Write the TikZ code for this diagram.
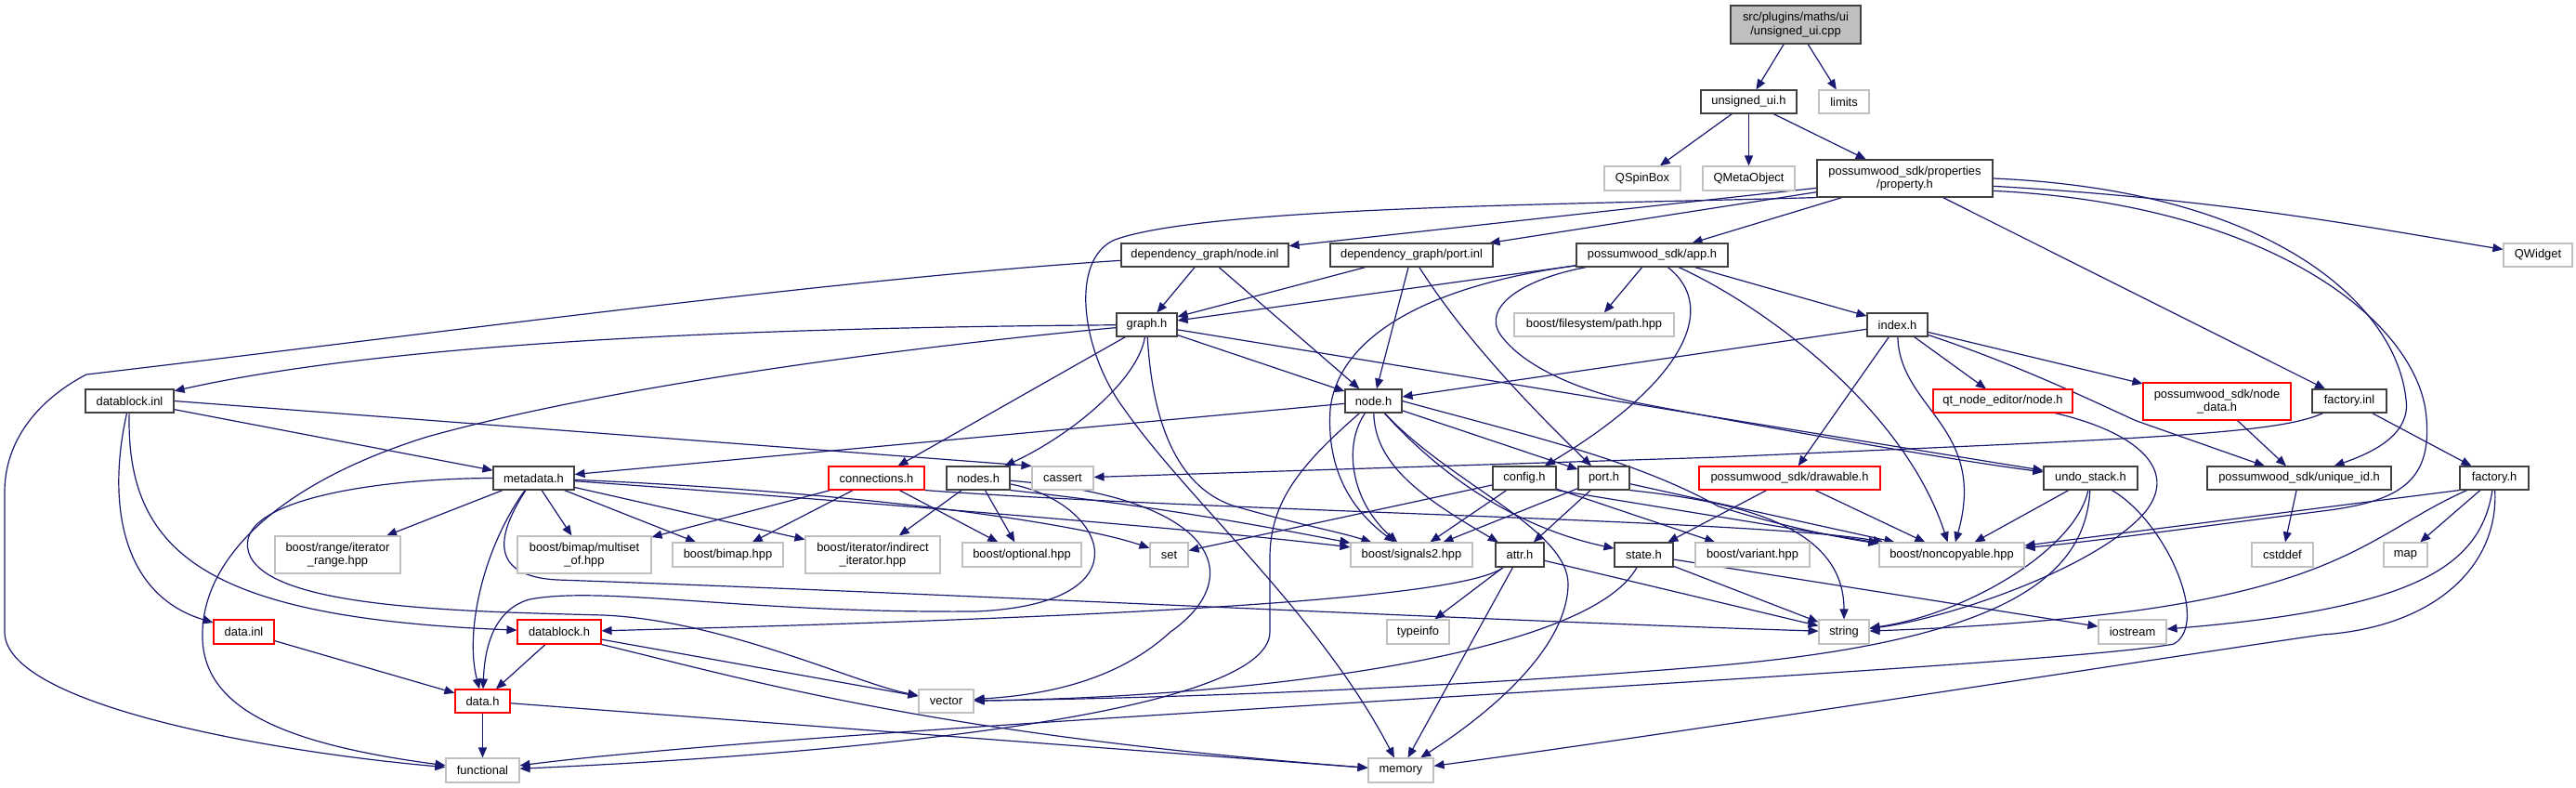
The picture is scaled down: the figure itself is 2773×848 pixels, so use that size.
\documentclass[tikz,border=0pt]{standalone}
\usepackage{fontspec}
\setmainfont{Liberation Sans}
\usetikzlibrary{arrows.meta}
\definecolor{edgec}{HTML}{191970}
\definecolor{grayb}{HTML}{BFBFBF}
\definecolor{blkb}{HTML}{404040}
\pgfdeclarelayer{bg}
\pgfsetlayers{bg,main}
\tikzset{
  nbase/.style={rectangle, fill=white, inner sep=0pt, minimum height=25pt, line width=1.1pt,
    font=\fontsize{12.9}{14.5}\selectfont, align=center, text=black},
  bk/.style={nbase, draw=blkb},
  gy/.style={nbase, draw=grayb},
  rd/.style={nbase, draw=red},
  edg/.style={draw=edgec, line width=1.2pt, -{Triangle[length=11pt,width=9pt]}},
}
\begin{document}
\begin{tikzpicture}[x=1pt,y=-1pt]
\useasboundingbox (0,0) rectangle (2773,848);
% nodes
\node[bk, fill=grayb, minimum width=140pt, minimum height=41pt] (root) at (1933,26.5) {src/plugins/maths/ui\\/unsigned\_ui.cpp};
\node[bk, minimum width=103pt] (uih) at (1882.5,109.5) {unsigned\_ui.h};
\node[gy, minimum width=54pt] (limits) at (1985,109.5) {limits};
\node[gy, minimum width=82pt, minimum height=26pt] (qspin) at (1768,192) {QSpinBox};
\node[gy, minimum width=99pt, minimum height=26pt] (qmeta) at (1882.5,192) {QMetaObject};
\node[bk, minimum width=189pt, minimum height=40pt] (prop) at (2050.5,192) {possumwood\_sdk/properties\\/property.h};
\node[gy, minimum width=74pt] (qwidget) at (2732,274.5) {QWidget};
\node[bk, minimum width=180pt] (nodeinl) at (1297,274.5) {dependency\_graph/node.inl};
\node[bk, minimum width=175pt] (portinl) at (1519.5,274.5) {dependency\_graph/port.inl};
\node[bk, minimum width=163pt] (apph) at (1778.5,274.5) {possumwood\_sdk/app.h};
\node[bk, minimum width=65pt] (graphh) at (1234.5,349.5) {graph.h};
\node[gy, minimum width=172pt] (fspath) at (1716,349.5) {boost/filesystem/path.hpp};
\node[bk, minimum width=65pt] (indexh) at (2042.5,349.5) {index.h};
\node[rd, minimum width=150pt] (qtnode) at (2156,431.5) {qt\_node\_editor/node.h};
\node[rd, minimum width=159pt, minimum height=40pt] (nodedata) at (2386.5,432) {possumwood\_sdk/node\\\_data.h};
\node[bk, minimum width=80pt] (factinl) at (2529,431.5) {factory.inl};
\node[bk, minimum width=95pt] (dbinl) at (139.5,431.5) {datablock.inl};
\node[bk, minimum width=61pt] (nodeh) at (1478.5,431.5) {node.h};
\node[gy, minimum width=66pt] (cassert) at (1144,514.5) {cassert};
\node[bk, minimum width=87pt] (metah) at (574.5,514.5) {metadata.h};
\node[rd, minimum width=103pt] (connh) at (943.5,514.5) {connections.h};
\node[bk, minimum width=68pt] (nodesh) at (1053,514.5) {nodes.h};
\node[bk, minimum width=68pt] (configh) at (1641,514.5) {config.h};
\node[bk, minimum width=55pt] (porth) at (1726.5,514.5) {port.h};
\node[rd, minimum width=195pt] (drawh) at (1926.5,514.5) {possumwood\_sdk/drawable.h};
\node[bk, minimum width=101pt] (undoh) at (2250.5,514.5) {undo\_stack.h};
\node[bk, minimum width=198pt] (uidh) at (2475,514.5) {possumwood\_sdk/unique\_id.h};
\node[bk, minimum width=74pt] (facth) at (2685,514.5) {factory.h};
\node[gy, minimum width=135pt, minimum height=40pt] (range) at (363.5,597) {boost/range/iterator\\\_range.hpp};
\node[gy, minimum width=144pt, minimum height=40pt] (multiset) at (629,597) {boost/bimap/multiset\\\_of.hpp};
\node[gy, minimum width=119pt, minimum height=26pt] (bimap) at (783.5,597) {boost/bimap.hpp};
\node[gy, minimum width=145pt, minimum height=40pt] (indirect) at (939.5,597) {boost/iterator/indirect\\\_iterator.hpp};
\node[gy, minimum width=128pt, minimum height=26pt] (optional) at (1100,597) {boost/optional.hpp};
\node[gy, minimum width=41pt, minimum height=26pt] (setn) at (1258.5,597) {set};
\node[gy, minimum width=131pt, minimum height=26pt] (signals) at (1519.5,597) {boost/signals2.hpp};
\node[bk, minimum width=52pt, minimum height=26pt] (attrh) at (1636,597) {attr.h};
\node[bk, minimum width=63pt, minimum height=26pt] (stateh) at (1769.5,597) {state.h};
\node[gy, minimum width=123pt, minimum height=26pt] (variant) at (1886.5,597) {boost/variant.hpp};
\node[gy, minimum width=156pt, minimum height=26pt] (noncopy) at (2101,597) {boost/noncopyable.hpp};
\node[gy, minimum width=66pt, minimum height=26pt] (cstddef) at (2457,597) {cstddef};
\node[gy, minimum width=47pt, minimum height=26pt] (mapn) at (2589.5,597) {map};
\node[rd, minimum width=65pt, minimum height=26pt] (datainl) at (262.5,680) {data.inl};
\node[rd, minimum width=90pt, minimum height=26pt] (dbh) at (602,680) {datablock.h};
\node[gy, minimum width=67pt, minimum height=26pt] (typeinfo) at (1526.5,680) {typeinfo};
\node[gy, minimum width=54pt, minimum height=26pt] (stringn) at (1985,680) {string};
\node[gy, minimum width=73pt, minimum height=26pt] (iostream) at (2295.5,680) {iostream};
\node[rd, minimum width=59pt] (datah) at (519.5,754.5) {data.h};
\node[gy, minimum width=59pt] (vector) at (1018.5,754.5) {vector};
\node[gy, minimum width=79pt, minimum height=26pt] (functional) at (519.5,829) {functional};
\node[gy, minimum width=70pt, minimum height=26pt] (memory) at (1508,829) {memory};
% edges
\begin{pgfonlayer}{bg}
\draw[edg] (root) -- (uih);
\draw[edg] (root) -- (limits);
\draw[edg] (uih) -- (qspin);
\draw[edg] (uih) -- (qmeta);
\draw[edg] (uih) -- (prop);
\draw[edg] (prop) -- (nodeinl);
\draw[edg] (prop) -- (portinl);
\draw[edg] (prop) -- (apph);
\draw[edg] (prop.-5) .. controls (2400,215) and (2550,245) .. (qwidget);
\draw[edg] (prop) -- (factinl);
\draw[edg] (prop.0) .. controls (2450,205) and (2580,330) .. (2590,430) .. controls (2595,465) and (2560,485) .. (uidh);
\draw[edg] (prop.-8) .. controls (2450,220) and (2605,350) .. (2612,450) .. controls (2618,520) and (2580,540) .. (2500,550) .. controls (2380,565) and (2260,582) .. (noncopy);
\draw[edg] (prop.south west) .. controls (1700,220) and (1300,222) .. (1200,258) .. controls (1150,280) and (1165,380) .. (1210,440) .. controls (1280,540) and (1420,660) .. (memory);
% node.inl / port.inl / app.h
\draw[edg] (nodeinl) -- (graphh);
\draw[edg] (nodeinl) -- (nodeh);
\draw[edg] (nodeinl) .. controls (900,300) and (460,360) .. (93,403) .. controls (60,420) and (5,460) .. (5,530) -- (5,680) .. controls (5,760) and (300,810) .. (functional);
\draw[edg] (graphh) .. controls (900,352) and (450,362) .. (dbinl);
\draw[edg] (graphh) .. controls (930,378) and (640,420) .. (460,470) .. controls (300,520) and (220,600) .. (218,680) .. controls (215,760) and (300,800) .. (functional);
\draw[edg] (portinl) -- (graphh);
\draw[edg] (portinl) -- (nodeh);
\draw[edg] (portinl) .. controls (1580,370) and (1660,450) .. (porth);
\draw[edg] (apph) -- (graphh);
\draw[edg] (apph) -- (fspath);
\draw[edg] (apph) -- (indexh);
\draw[edg] (apph) .. controls (1520,310) and (1440,370) .. (1432,440) .. controls (1428,500) and (1450,545) .. (signals);
\draw[edg] (apph) .. controls (1850,330) and (1815,410) .. (configh);
\draw[edg] (apph) .. controls (1900,330) and (2050,440) .. (noncopy);
\draw[edg] (apph) .. controls (1640,300) and (1595,330) .. (1615,360) .. controls (1640,395) and (1700,420) .. (1760,433) .. controls (1900,460) and (2100,495) .. (undoh);
% index.h
\draw[edg] (indexh) -- (nodeh);
\draw[edg] (indexh) -- (qtnode);
\draw[edg] (indexh) -- (nodedata);
\draw[edg] (indexh) .. controls (2180,395) and (2270,440) .. (2300,453) -- (uidh);
\draw[edg] (indexh) -- (drawh);
\draw[edg] (indexh) .. controls (2045,440) and (2140,460) .. (noncopy);
% graph.h
\draw[edg] (graphh) -- (nodeh);
\draw[edg] (graphh) .. controls (1225,410) and (1150,470) .. (nodesh);
\draw[edg] (graphh) -- (connh);
\draw[edg] (graphh) .. controls (1240,450) and (1265,525) .. (1330,545) .. controls (1400,565) and (1440,572) .. (signals);
\draw[edg] (graphh) -- (undoh);
% node.h
\draw[edg] (nodeh) -- (metah);
\draw[edg] (nodeh) -- (porth);
\draw[edg] (nodeh) .. controls (1480,500) and (1530,535) .. (attrh);
\draw[edg] (nodeh) .. controls (1540,500) and (1620,565) .. (stateh);
\draw[edg] (nodeh) .. controls (1560,520) and (1690,570) .. (1688,630) .. controls (1686,700) and (1600,770) .. (memory);
\draw[edg] (nodeh) .. controls (1445,480) and (1455,540) .. (signals);
\draw[edg] (nodeh) .. controls (1400,500) and (1367,540) .. (1367,600) -- (1367,680) .. controls (1367,770) and (900,812) .. (functional);
\draw[edg] (nodeh.east) .. controls (1650,470) and (1760,495) .. (1850,545) .. controls (1930,570) and (1990,580) .. (noncopy);
% nodes.h / connections.h
\draw[edg] (nodesh) -- (indirect);
\draw[edg] (nodesh) -- (optional);
\draw[edg] (nodesh) .. controls (1190,540) and (1240,650) .. (1050,658) .. controls (800,660) and (650,630) .. (570,645) .. controls (535,655) and (522,690) .. (datah);
\draw[edg] (nodesh) .. controls (1310,535) and (1345,620) .. (1260,680) .. controls (1200,735) and (1120,748) .. (vector);
\draw[edg] (nodesh.south east) .. controls (1250,545) and (1380,570) .. (signals);
\draw[edg] (connh) -- (multiset);
\draw[edg] (connh) -- (bimap);
\draw[edg] (connh) -- (optional);
\draw[edg] (connh.south east) .. controls (1300,550) and (1900,560) .. (noncopy);
% config / port / attr / state
\draw[edg] (configh) -- (setn);
\draw[edg] (configh) -- (signals);
\draw[edg] (configh) -- (variant);
\draw[edg] (configh.south east) -- (noncopy);
\draw[edg] (porth) -- (attrh);
\draw[edg] (porth) -- (signals);
\draw[edg] (porth) -- (noncopy);
\draw[edg] (porth.south east) .. controls (1870,540) and (1985,565) .. (stringn);
\draw[edg] (attrh) -- (typeinfo);
\draw[edg] (attrh) -- (memory);
\draw[edg] (attrh) .. controls (1580,640) and (1300,662) .. (dbh);
\draw[edg] (attrh) -- (stringn);
\draw[edg] (stateh) .. controls (1710,705) and (1350,750) .. (vector);
\draw[edg] (stateh) -- (stringn);
\draw[edg] (stateh) -- (iostream);
\draw[edg] (drawh) -- (stateh);
\draw[edg] (drawh) -- (noncopy);
% undo_stack
\draw[edg] (undoh) -- (noncopy);
\draw[edg] (undoh) .. controls (2235,590) and (2120,660) .. (stringn);
\draw[edg] (undoh) .. controls (2245,620) and (2160,690) .. (1840,717) .. controls (1500,745) and (1200,752) .. (vector);
\draw[edg] (undoh) .. controls (2330,560) and (2380,670) .. (2340,693) .. controls (2200,720) and (900,780) .. (functional);
% factory
\draw[edg] (facth.south west) -- (noncopy);
\draw[edg] (facth) -- (mapn);
\draw[edg] (facth) .. controls (2560,570) and (2530,625) .. (2300,657) .. controls (2200,670) and (2100,676) .. (stringn);
\draw[edg] (facth) .. controls (2670,610) and (2600,655) .. (iostream);
\draw[edg] (facth) .. controls (2690,610) and (2620,675) .. (2500,683) .. controls (2380,700) and (1800,790) .. (memory);
\draw[edg] (factinl) -- (facth);
\draw[edg] (factinl) .. controls (2450,468) and (2300,472) .. (1850,492) -- (cassert);
\draw[edg] (uidh) -- (cstddef);
\draw[edg] (nodedata) -- (uidh);
\draw[edg] (qtnode) .. controls (2300,465) and (2345,505) .. (2310,550) .. controls (2260,610) and (2100,665) .. (stringn);
% datablock.inl etc.
\draw[edg] (dbinl) -- (metah);
\draw[edg] (dbinl) .. controls (115,540) and (130,640) .. (datainl);
\draw[edg] (dbinl) .. controls (135,600) and (230,665) .. (dbh);
\draw[edg] (dbinl.east) -- (cassert.north west);
\draw[edg] (datainl) -- (datah);
\draw[edg] (dbh) -- (datah);
\draw[edg] (dbh) -- (vector);
\draw[edg] (dbh.south east) .. controls (800,730) and (1000,790) .. (memory);
\draw[edg] (datah) -- (functional);
\draw[edg] (datah) -- (memory);
% metadata.h
\draw[edg] (metah) -- (multiset);
\draw[edg] (metah) -- (bimap);
\draw[edg] (metah) -- (indirect);
\draw[edg] (metah) -- (range);
\draw[edg] (metah) .. controls (520,590) and (500,680) .. (datah);
\draw[edg] (metah) .. controls (535,575) and (525,620) .. (600,624) .. controls (1000,638) and (1600,668) .. (stringn);
\draw[edg] (metah.west) .. controls (400,515) and (240,540) .. (270,600) .. controls (300,655) and (500,658) .. (650,662) .. controls (780,668) and (920,735) .. (vector);
\draw[edg] (metah) .. controls (900,528) and (1150,560) .. (setn);
\draw[edg] (metah) .. controls (900,538) and (1300,570) .. (signals);
\end{pgfonlayer}
\end{tikzpicture}
\end{document}
